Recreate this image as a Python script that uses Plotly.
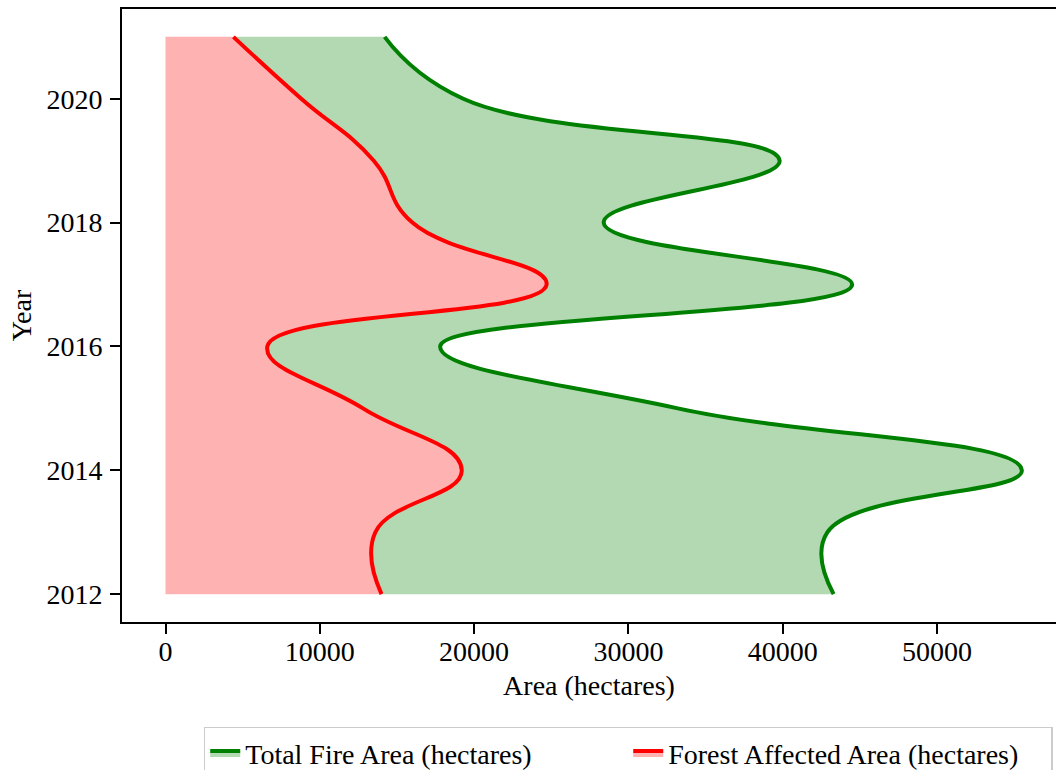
import plotly.graph_objects as go

years = [2012, 2013, 2014, 2015, 2016, 2017, 2018, 2019, 2020, 2021]
total_fire_area = [43300, 42900, 55500, 33200, 17800, 44500, 28400, 39800, 19300, 14200]
forest_affected_area = [14000, 13600, 19200, 12800, 6600, 24700, 16000, 13500, 8800, 4400]

font_family = "Liberation Serif"
fs = 28

fig = go.Figure()
fig.add_trace(go.Scatter(
    x=forest_affected_area, y=years, mode="lines",
    name="Forest Affected Area (hectares)",
    line=dict(color="#FF0000", width=4, shape="spline", smoothing=1.3),
    fill="tozerox", fillcolor="rgba(255,0,0,0.3)", legendrank=2,
))
fig.add_trace(go.Scatter(
    x=total_fire_area, y=years, mode="lines",
    name="Total Fire Area (hectares)",
    line=dict(color="#008000", width=4, shape="spline", smoothing=1.3),
    fill="tonextx", fillcolor="rgba(0,128,0,0.3)", legendrank=1,
))

fig.update_layout(
    width=1056, height=770,
    margin=dict(l=122, r=0, t=9, b=148, autoexpand=False),
    plot_bgcolor="white", paper_bgcolor="white",
    font=dict(family=font_family, size=fs, color="black"),
    showlegend=True,
    legend=dict(
        orientation="h", x=0.542, xanchor="center", y=-0.171, yanchor="top",
        bordercolor="#cccccc", borderwidth=1.5, bgcolor="white",
        font=dict(family=font_family, size=fs, color="black"),
        traceorder="normal", entrywidth=378, entrywidthmode="pixels",
    ),
)
fig.update_xaxes(
    range=[-2819, 57712], showgrid=False, zeroline=False,
    showline=True, linecolor="black", linewidth=2, mirror=True,
    ticks="outside", ticklen=10, tickwidth=2, tickcolor="black",
    tickvals=[0, 10000, 20000, 30000, 40000, 50000],
    ticktext=["0", "10000", "20000", "30000", "40000", "50000"],
    ticklabelstandoff=-7,
    title=dict(text="Area (hectares)", font=dict(size=fs), standoff=10),
)
fig.update_yaxes(
    range=[2011.55, 2021.45], showgrid=False, zeroline=False,
    showline=True, linecolor="black", linewidth=2, mirror=False,
    ticks="outside", ticklen=10, tickwidth=2, tickcolor="black",
    tickvals=[2012, 2014, 2016, 2018, 2020],
    ticktext=["2012", "2014", "2016", "2018", "2020"],
    ticklabelstandoff=2,
    title=dict(text="Year", font=dict(size=fs), standoff=7),
)

# remove the default page margin and scrollbars so the 1056x770 figure fills the window exactly
fig.write_html(
    "out.html",
    config={"displayModeBar": False},
    post_script=(
        "document.body.style.margin='0';"
        "document.body.style.overflow='hidden';"
        "document.documentElement.style.overflow='hidden';"
    ),
)
